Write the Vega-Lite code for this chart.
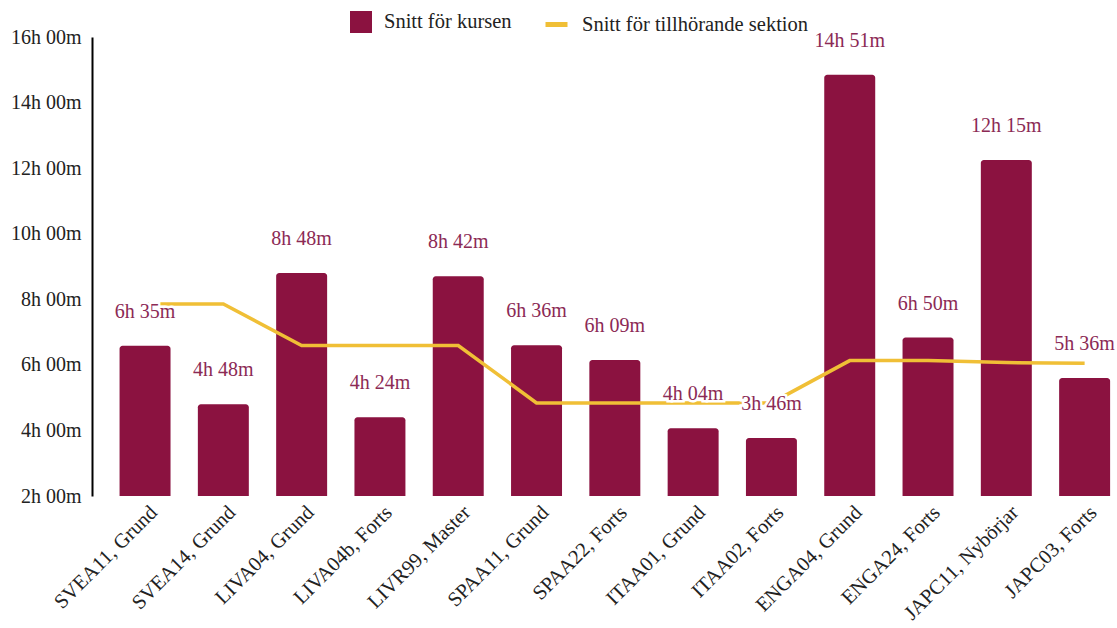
{
  "$schema": "https://vega.github.io/schema/vega-lite/v6.json",
  "width": 1025,
  "height": 459,
  "autosize": {"type": "none"},
  "padding": {"left": 92, "top": 37, "right": 0, "bottom": 132},
  "background": "white",
  "config": {
    "font": "Liberation Serif",
    "view": {"stroke": null},
    "axis": {"labelFont": "Liberation Serif", "labelFontSize": 20, "labelColor": "#222222", "grid": false, "ticks": false, "title": null, "labelLimit": 0},
    "legend": {"labelLimit": 0}
  },
  "data": {
    "values": [
      {"kurs": "SVEA11, Grund", "kurstid": 6.583, "etikett": "6h 35m", "sektion": 7.86},
      {"kurs": "SVEA14, Grund", "kurstid": 4.8, "etikett": "4h 48m", "sektion": 7.86},
      {"kurs": "LIVA04, Grund", "kurstid": 8.8, "etikett": "8h 48m", "sektion": 6.59},
      {"kurs": "LIVA04b, Forts", "kurstid": 4.4, "etikett": "4h 24m", "sektion": 6.59},
      {"kurs": "LIVR99, Master", "kurstid": 8.7, "etikett": "8h 42m", "sektion": 6.59},
      {"kurs": "SPAA11, Grund", "kurstid": 6.6, "etikett": "6h 36m", "sektion": 4.84},
      {"kurs": "SPAA22, Forts", "kurstid": 6.15, "etikett": "6h 09m", "sektion": 4.84},
      {"kurs": "ITAA01, Grund", "kurstid": 4.067, "etikett": "4h 04m", "sektion": 4.84},
      {"kurs": "ITAA02, Forts", "kurstid": 3.767, "etikett": "3h 46m", "sektion": 4.84},
      {"kurs": "ENGA04, Grund", "kurstid": 14.85, "etikett": "14h 51m", "sektion": 6.13},
      {"kurs": "ENGA24, Forts", "kurstid": 6.833, "etikett": "6h 50m", "sektion": 6.13},
      {"kurs": "JAPC11, Nybörjar", "kurstid": 12.25, "etikett": "12h 15m", "sektion": 6.07},
      {"kurs": "JAPC03, Forts", "kurstid": 5.6, "etikett": "5h 36m", "sektion": 6.05}
    ]
  },
  "encoding": {
    "x": {
      "field": "kurs", "type": "nominal", "sort": null,
      "scale": {"paddingInner": 0.349, "paddingOuter": 0.22, "align": 0.8},
      "axis": {"labelAngle": -45, "domain": false, "labelPadding": 13, "labelOffset": 9, "labelFontSize": 20.5, "labelAlign": "right", "labelBaseline": "middle"}
    }
  },
  "layer": [
    {
      "mark": {"type": "bar", "cornerRadiusTopLeft": 3, "cornerRadiusTopRight": 3},
      "encoding": {
        "y": {
          "field": "kurstid", "type": "quantitative",
          "scale": {"domain": [2, 16], "nice": false, "zero": false},
          "axis": {"values": [2, 4, 6, 8, 10, 12, 14, 16], "labelExpr": "datum.value + 'h 00m'", "domain": true, "domainColor": "#000000", "domainWidth": 2, "labelPadding": 11}
        },
        "y2": {"datum": 2},
        "fill": {
          "datum": "Snitt för kursen", "type": "nominal",
          "scale": {"range": ["#8b1240"]},
          "legend": {"title": null, "orient": "none", "legendX": 258, "legendY": -26, "symbolType": "square", "symbolSize": 484, "symbolCornerRadius": 3, "labelFontSize": 20.5, "labelColor": "#222222", "labelOffset": 12, "padding": 0, "symbolStrokeWidth": 0}
        }
      }
    },
    {
      "mark": {"type": "line", "strokeWidth": 3.5},
      "encoding": {
        "y": {"field": "sektion", "type": "quantitative"},
        "stroke": {
          "datum": "Snitt för tillhörande sektion", "type": "nominal",
          "scale": {"range": ["#f0bf36"]},
          "legend": {"title": null, "orient": "none", "legendX": 451, "legendY": -26, "symbolType": "stroke", "symbolSize": 484, "symbolStrokeWidth": 5, "labelFontSize": 20.5, "labelColor": "#222222", "labelOffset": 12, "padding": 0}
        }
      }
    },
    {
      "mark": {"type": "text", "fontSize": 20, "dy": -34, "baseline": "middle", "stroke": "white", "strokeWidth": 5, "fill": "white"},
      "encoding": {
        "y": {"field": "kurstid", "type": "quantitative"},
        "text": {"field": "etikett"}
      }
    },
    {
      "mark": {"type": "text", "fontSize": 20, "dy": -34, "baseline": "middle", "fill": "#8c2a55"},
      "encoding": {
        "y": {"field": "kurstid", "type": "quantitative"},
        "text": {"field": "etikett"}
      }
    }
  ]
}
